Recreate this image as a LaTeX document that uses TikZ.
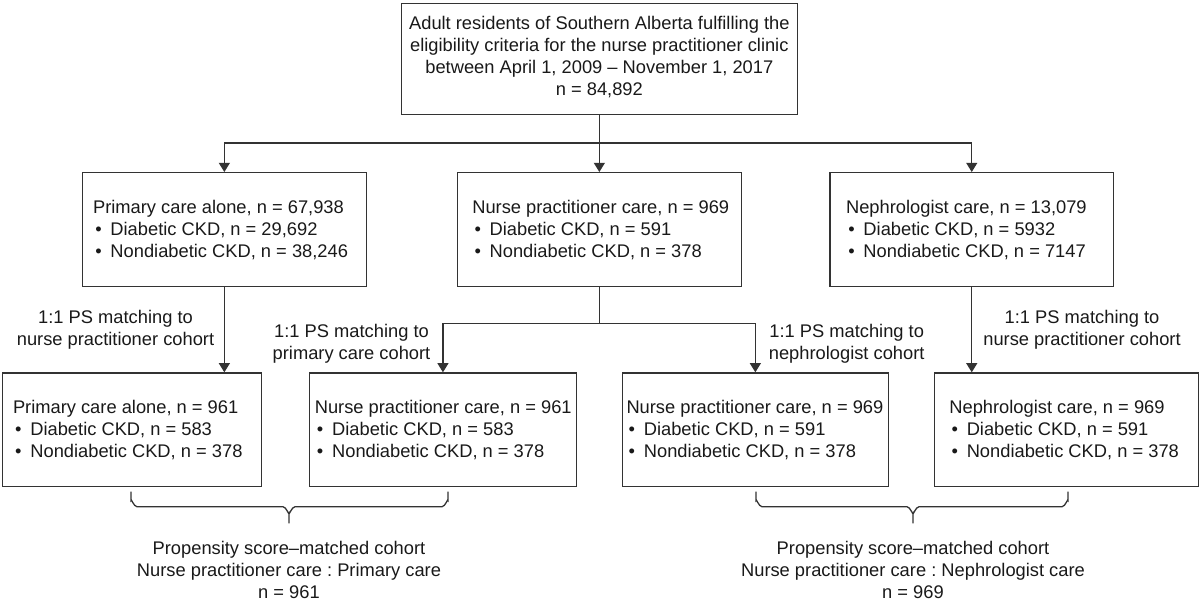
\documentclass[tikz,border=0pt]{standalone}
\usepackage{fontspec}
\setmainfont{Liberation Sans}
\usetikzlibrary{arrows.meta,calc}
\newcommand\bul{\makebox[0.95em][l]{\hspace{0.12em}•}}
\frenchspacing
\begin{document}
\begin{tikzpicture}[x=0.5pt,y=-0.5pt,
  every node/.style={font=\fontsize{9.15pt}{11pt}\selectfont, text=black!90},
  box/.style={draw=black!80, line width=0.65pt, anchor=north west, inner sep=0pt, minimum height=57pt},
  txt/.style={align=left, anchor=west, inner sep=0pt},
  lab/.style={align=center, anchor=base, inner sep=0pt},
  conn/.style={draw=black!80, line width=0.65pt},
  arr/.style={conn, -{Triangle[width=5.5pt,length=4.6pt]}},
  brc/.style={draw=black!80, line width=0.65pt}]
\useasboundingbox (0,0) rectangle (1200,602);

% top box
\node[box, minimum width=198pt, minimum height=55.5pt] (top) at (400.7,3) {};
\node[align=center, inner sep=0pt] (topt) at ([yshift=1pt]top.center) {Adult residents of Southern Alberta fulfilling the\\eligibility criteria for the nurse practitioner clinic\\between April 1, 2009 -- November 1, 2017\\n = 84,892};

% middle row
\node[box, minimum width=142pt] (pc) at (81.7,172) {};
\node[txt] (pct) at ([xshift=5.5pt]pc.west) {Primary care alone, n = 67,938\\\bul Diabetic CKD, n = 29,692\\\bul Nondiabetic CKD, n = 38,246};
\node[box, minimum width=142pt] (np) at (456.7,172) {};
\node[txt] (npt) at ([xshift=7.6pt]np.west) {Nurse practitioner care, n = 969\\\bul Diabetic CKD, n = 591\\\bul Nondiabetic CKD, n = 378};
\node[box, minimum width=141.8pt] (ne) at (829.3,172) {};
\node[txt] (net) at ([xshift=8.2pt]ne.west) {Nephrologist care, n = 13,079\\\bul Diabetic CKD, n = 5932\\\bul Nondiabetic CKD, n = 7147};

% bottom row
\node[box, minimum width=129.3pt, minimum height=56.7pt] (b1) at (2,372.3) {};
\node[txt] (b1t) at ([xshift=5.3pt]b1.west) {Primary care alone, n = 961\\\bul Diabetic CKD, n = 583\\\bul Nondiabetic CKD, n = 378};
\node[box, minimum width=133.3pt, minimum height=56.7pt] (b2) at (309,372.3) {};
\node[txt] (b2t) at ([xshift=2.7pt]b2.west) {Nurse practitioner care, n = 961\\\bul Diabetic CKD, n = 583\\\bul Nondiabetic CKD, n = 378};
\node[box, minimum width=133pt, minimum height=56.7pt] (b3) at (621.7,372.3) {};
\node[txt] (b3t) at ([xshift=2.2pt]b3.west) {Nurse practitioner care, n = 969\\\bul Diabetic CKD, n = 591\\\bul Nondiabetic CKD, n = 378};
\node[box, minimum width=132pt, minimum height=56.7pt] (b4) at (934,372.3) {};
\node[txt] (b4t) at ([xshift=7.5pt]b4.west) {Nephrologist care, n = 969\\\bul Diabetic CKD, n = 591\\\bul Nondiabetic CKD, n = 378};

% connectors top -> middle
\path (top.south) ++(0,27.7) coordinate (hj);
\draw[arr] (top.south) -- (np.north);
\draw[conn] (hj -| pc.north) -- (hj -| ne.north);
\draw[arr] (hj -| pc.north) -- (pc.north);
\draw[arr] (hj -| ne.north) -- (ne.north);

% middle -> bottom
\draw[arr] (pc.south) -- (pc.south |- b1.north);
\path (np.south) ++(0,36) coordinate (mj);
\draw[conn] (np.south) -- (mj);
\draw[conn] (mj -| b2.north) -- (mj -| b3.north);
\draw[arr] (mj -| b2.north) -- (b2.north);
\draw[arr] (mj -| b3.north) -- (b3.north);
\draw[arr] (ne.south) -- (ne.south |- b4.north);

% labels (base anchor = last line baseline)
\node[lab] (l1) at (115.5,345) {1:1 PS matching to\\nurse practitioner cohort};
\node[lab] (l2) at (351.5,359) {1:1 PS matching to\\primary care cohort};
\node[lab] (l3) at (846.7,359) {1:1 PS matching to\\nephrologist cohort};
\node[lab] (l4) at (1082,345) {1:1 PS matching to\\nurse practitioner cohort};

% braces
\draw[brc] (131,491.7) -- (131,500.7) to[out=90,in=180] (137,506.7) -- (283,506.7) to[out=0,in=-90] (289,512.7) -- (289,523.3);
\draw[brc] (289,512.7) to[out=-90,in=180] (295,506.7) -- (442,506.7) to[out=0,in=90] (448,500.7) -- (448,491.7);
\draw[brc] (756,491.7) -- (756,500.7) to[out=90,in=180] (762,506.7) -- (907,506.7) to[out=0,in=-90] (913,512.7) -- (913,523.3);
\draw[brc] (913,512.7) to[out=-90,in=180] (919,506.7) -- (1062,506.7) to[out=0,in=90] (1068,500.7) -- (1068,491.7);

% bottom texts
\node[lab] (s1) at (289,598) {Propensity score--matched cohort\\Nurse practitioner care : Primary care\\n = 961};
\node[lab] (s2) at (913,598) {Propensity score--matched cohort\\Nurse practitioner care : Nephrologist care\\n = 969};
\end{tikzpicture}
\end{document}
